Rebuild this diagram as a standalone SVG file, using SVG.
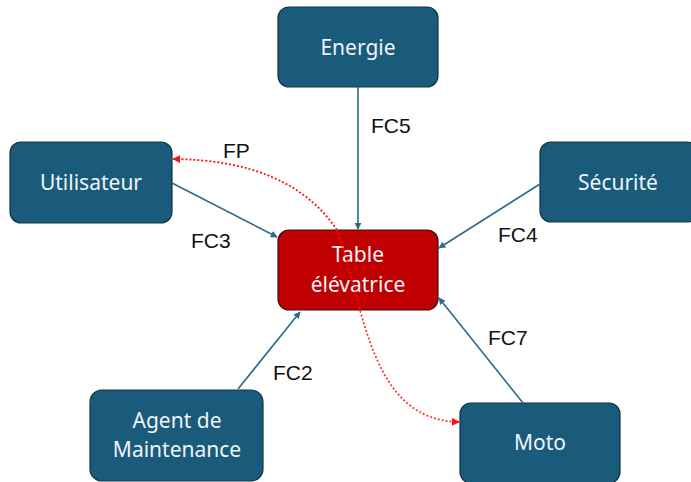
<svg xmlns="http://www.w3.org/2000/svg" width="691" height="482" viewBox="0 0 691 482">
<style>
.node rect{fill:#1a5b7c;stroke:#0f3446;stroke-width:1.2}
.main rect{fill:#c00000;stroke:#3a1010;stroke-width:1.2}
.nt{font-family:"Noto Sans","Open Sans",sans-serif;font-size:21px;fill:#eef4f8;text-anchor:middle}
.lbl{font-family:"Liberation Sans",Arial,sans-serif;font-size:21px;fill:#111}
.c{stroke:#2b6a8a;stroke-width:1.6;fill:none;marker-end:url(#ah)}
.fp{stroke:#ff1010;stroke-width:1.8;fill:none;stroke-dasharray:2 2;marker-end:url(#ahr)}
</style>
<defs>
<marker id="ah" viewBox="0 0 10 10" refX="9" refY="5" markerWidth="7" markerHeight="7" markerUnits="userSpaceOnUse" orient="auto"><path d="M0,0 L10,5 L0,10 z" fill="#2b6a8a"/></marker>
<marker id="ahr" viewBox="0 0 10 10" refX="9" refY="5" markerWidth="8" markerHeight="8" markerUnits="userSpaceOnUse" orient="auto"><path d="M0,0 L10,5 L0,10 z" fill="#ff1010"/></marker>
</defs>
<rect width="691" height="482" fill="#fff"/>
<g id="energie" class="node"><rect x="278" y="7" width="160" height="80" rx="11"/><text class="nt" x="358" y="55">Energie</text></g>
<g id="utilisateur" class="node"><rect x="10" y="142" width="162" height="81" rx="11"/><text class="nt" x="91" y="190">Utilisateur</text></g>
<g id="securite" class="node"><rect x="540" y="142" width="158" height="80" rx="11"/><text class="nt" x="618" y="190">Sécurité</text></g>
<g id="table" class="main"><rect x="278" y="230" width="160" height="80" rx="11"/><text class="nt" x="358" y="262">Table</text><text class="nt" x="358" y="292">élévatrice</text></g>
<g id="agent" class="node"><rect x="90" y="390" width="173" height="91" rx="12"/><text class="nt" x="177" y="428">Agent de</text><text class="nt" x="177" y="457">Maintenance</text></g>
<g id="moto" class="node"><rect x="460" y="403" width="160" height="80" rx="11"/><text class="nt" x="540" y="450">Moto</text></g>
<g id="connectors">
<path class="c" d="M358,87 L358,229"/>
<path class="c" d="M172,183 L277,237"/>
<path class="c" d="M540,184 L439,248"/>
<path class="c" d="M238,389 L300,312"/>
<path class="c" d="M523,403 L439,298"/>
<path class="fp" d="M337,230 Q290,160 173,159"/>
<path class="fp" d="M337,230 C365,310 370,420 459,422" stroke-opacity="0.85"/>
</g>
<g id="labels">
<text class="lbl" x="223" y="158">FP</text>
<text class="lbl" x="371" y="133">FC5</text>
<text class="lbl" x="191" y="248">FC3</text>
<text class="lbl" x="498" y="242">FC4</text>
<text class="lbl" x="273" y="380">FC2</text>
<text class="lbl" x="488" y="345">FC7</text>
</g>
</svg>
